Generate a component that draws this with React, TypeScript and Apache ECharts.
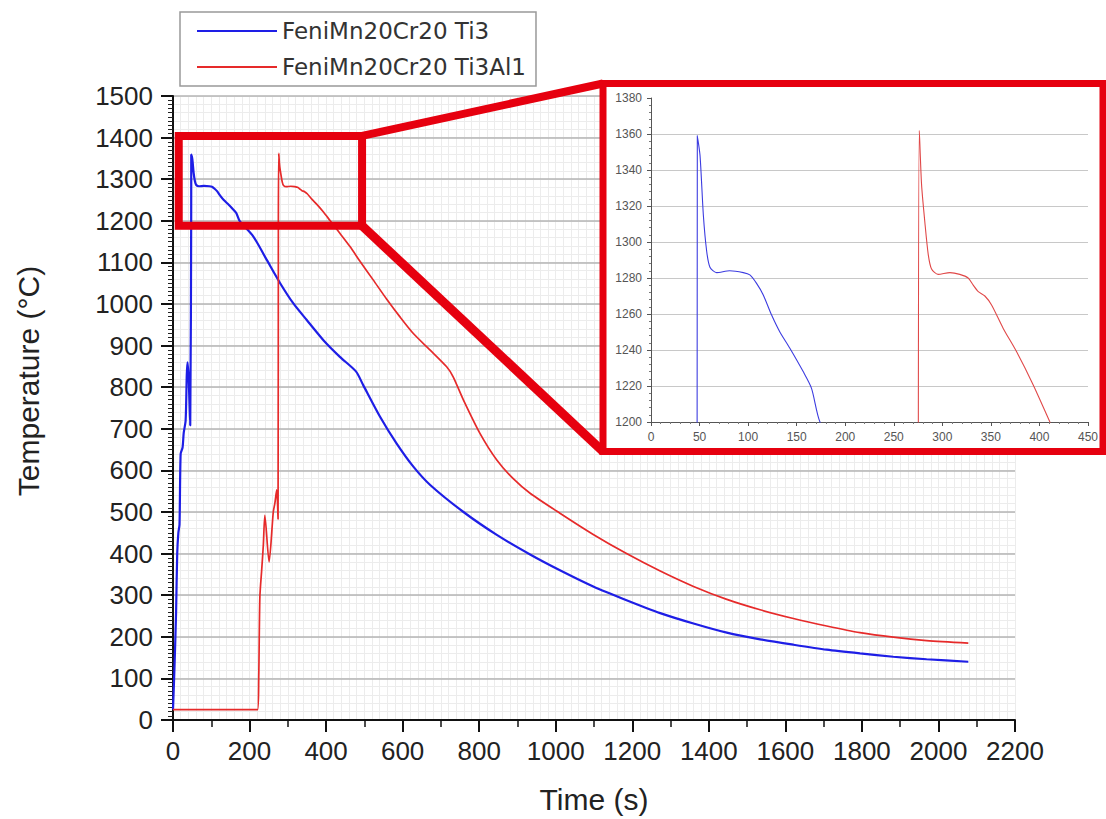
import React, { useEffect, useRef } from "react";
import * as echarts from "echarts";

const seriesNames = ["FeniMn20Cr20 Ti3", "FeniMn20Cr20 Ti3Al1"];

// FeniMn20Cr20 Ti3 (blue)
const ti3Time = [0, 4, 8, 11, 14, 17, 20, 25, 28, 33, 36, 38, 41, 45, 47.5, 47.7, 50.5, 53.9, 57.3, 60.7, 67.6, 81, 95, 101.8, 108.7, 115.6, 124.2, 132.7, 143, 156.7, 165.3, 174, 210, 245, 280, 314, 349, 393, 436, 478, 497, 541, 584, 628, 672, 759, 846, 933, 1011, 1098, 1185, 1273, 1360, 1447, 1534, 1621, 1708, 1795, 1882, 1969, 2078];
const ti3Temp = [25, 130, 257, 400, 450, 470, 640, 655, 690, 720, 830, 860, 820, 708, 1200, 1359, 1348, 1315, 1295, 1286, 1283, 1284, 1283, 1281.7, 1277, 1270.6, 1259.4, 1250, 1241, 1228, 1218.7, 1200, 1162, 1106, 1050, 1002, 962, 913, 873, 838, 805, 729, 665, 609, 565, 500, 445, 398, 360, 321, 288, 257, 232, 210, 194, 181, 169, 160, 152, 146, 140];

// FeniMn20Cr20 Ti3Al1 (red)
const ti3Al1Time = [0, 221, 224, 227, 232, 236, 240, 251, 262, 266, 271, 274.5, 275.3, 276.3, 278.6, 282, 285.5, 288.9, 295.7, 307.8, 318, 326.6, 331.8, 337, 343.8, 350.7, 362.7, 376.5, 393.6, 410.8, 436, 462.5, 489, 523, 558, 593, 628, 672, 715, 732, 759, 802, 846, 889, 933, 1011, 1098, 1185, 1273, 1360, 1447, 1534, 1621, 1708, 1795, 1882, 1969, 2078];
const ti3Al1Temp = [25, 25, 100, 296, 364, 420, 492, 380, 500, 520, 553, 483, 1200, 1362, 1332, 1311, 1293, 1285, 1282, 1283, 1282, 1280, 1276, 1272.4, 1270, 1265, 1252, 1239, 1220.6, 1200, 1170, 1138, 1102, 1058, 1012, 969, 929, 889, 849, 825, 769, 689, 625, 580, 545, 497, 446, 400, 358, 321, 290, 265, 244, 226, 210, 199, 191, 185];

// zoomed region marked on the main plot (time, temperature)
const zoomBoxTime = [15, 494];
const zoomBoxTemp = [1188, 1404];

const BLUE = "#1e1ee6";
const RED = "#e62a2a";
const FRAME = "#e6000f";
const FONT = "Liberation Sans";
const plain = (v: number) => String(v);

export default function App() {
  const ref = useRef<HTMLDivElement>(null);

  useEffect(() => {
    const chart = echarts.init(ref.current!, null, { renderer: "svg" });
    const zip = (a: number[], b: number[]) => a.map((v, i) => [v, b[i]]);
    const blue = zip(ti3Time, ti3Temp);
    const red = zip(ti3Al1Time, ti3Al1Temp);
    const smoothOpts = { smooth: 0.25 };

    chart.setOption({
      animation: false,
      backgroundColor: "#ffffff",
      legend: {
        data: seriesNames,
        orient: "vertical",
        left: 180,
        top: 12,
        padding: [6, 10, 6, 17],
        itemGap: 10,
        itemWidth: 80,
        itemHeight: 2,
        icon: "rect",
        backgroundColor: "#ffffff",
        borderColor: "#999",
        borderWidth: 1.5,
        z: 6,
        textStyle: { fontFamily: "DejaVu Sans", fontSize: 23, color: "#333", lineHeight: 26 },
      },
      grid: [
        { left: 173, right: 91, top: 96, bottom: 99 },
        { left: 651, right: 18, top: 98, bottom: 397 },
      ],
      xAxis: [
        {
          type: "value", gridIndex: 0, min: 0, max: 2200, interval: 200, z: 1,
          axisLine: { show: true, onZero: false, lineStyle: { color: "#111", width: 2 } },
          axisTick: { show: true, length: 12, lineStyle: { color: "#111", width: 2 } },
          minorTick: { show: true, splitNumber: 2, length: 7, lineStyle: { color: "#111", width: 1.5 } },
          axisLabel: { fontSize: 26, color: "#222", margin: 18, fontFamily: FONT, formatter: plain },
          splitLine: { show: false },
          name: "Time (s)", nameLocation: "middle", nameGap: 64,
          nameTextStyle: { fontSize: 30, color: "#222", fontFamily: FONT },
        },
        {
          type: "value", gridIndex: 0, min: 0, max: 2200, interval: 20, z: 0,
          axisLine: { show: false }, axisTick: { show: false }, axisLabel: { show: false },
          splitLine: { show: true, lineStyle: { color: "#ececec", width: 1 } },
        },
        {
          type: "value", gridIndex: 1, min: 0, max: 450, interval: 50, z: 3,
          axisLine: { show: true, onZero: false, lineStyle: { color: "#555", width: 1 } },
          axisTick: { show: true, length: 4, lineStyle: { color: "#555" } },
          minorTick: { show: true, splitNumber: 5, length: 2, lineStyle: { color: "#777" } },
          axisLabel: { fontSize: 12, color: "#555", margin: 9, fontFamily: FONT, formatter: plain },
          splitLine: { show: false },
        },
      ],
      yAxis: [
        {
          type: "value", gridIndex: 0, min: 0, max: 1500, interval: 100, z: 1,
          axisLine: { show: true, onZero: false, lineStyle: { color: "#111", width: 2 } },
          axisTick: { show: true, length: 12, lineStyle: { color: "#111", width: 2 } },
          minorTick: { show: true, splitNumber: 10, length: 5, lineStyle: { color: "#222", width: 1 } },
          axisLabel: { fontSize: 26, color: "#222", margin: 20, fontFamily: FONT, formatter: plain },
          splitLine: { show: true, lineStyle: { color: "#b4b4b4", width: 1.5 } },
        },
        {
          type: "value", gridIndex: 0, min: 0, max: 1500, interval: 20, z: 0,
          axisLine: { show: false }, axisTick: { show: false }, axisLabel: { show: false },
          splitLine: { show: true, lineStyle: { color: "#ececec", width: 1 } },
        },
        {
          type: "value", gridIndex: 1, min: 1200, max: 1380, interval: 20, z: 3,
          axisLine: { show: true, onZero: false, lineStyle: { color: "#555", width: 1 } },
          axisTick: { show: true, length: 4, lineStyle: { color: "#555" } },
          minorTick: { show: true, splitNumber: 5, length: 2, lineStyle: { color: "#777" } },
          axisLabel: { fontSize: 12, color: "#555", margin: 9, fontFamily: FONT, formatter: plain },
          splitLine: { show: true, showMaxLine: false, lineStyle: { color: "#c8c8c8", width: 1 } },
        },
      ],
      series: [
        {
          name: seriesNames[0], type: "line", xAxisIndex: 0, yAxisIndex: 0, data: blue,
          symbol: "none", color: BLUE, itemStyle: { color: BLUE }, ...smoothOpts,
          lineStyle: { color: BLUE, width: 2.2 }, z: 2, clip: true,
        },
        {
          name: seriesNames[1], type: "line", xAxisIndex: 0, yAxisIndex: 0, data: red,
          symbol: "none", color: RED, itemStyle: { color: RED }, ...smoothOpts,
          lineStyle: { color: RED, width: 1.7 }, z: 2, clip: true,
        },
        {
          name: seriesNames[0], type: "line", xAxisIndex: 2, yAxisIndex: 2, data: blue,
          symbol: "none", color: BLUE, itemStyle: { color: BLUE }, ...smoothOpts,
          lineStyle: { color: "#3c3ce0", width: 1.1 }, z: 4, clip: true,
        },
        {
          name: seriesNames[1], type: "line", xAxisIndex: 2, yAxisIndex: 2, data: red,
          symbol: "none", color: RED, itemStyle: { color: RED }, ...smoothOpts,
          lineStyle: { color: "#e04848", width: 1.1 }, z: 4, clip: true,
        },
      ],
    });

    const tl = chart.convertToPixel({ gridIndex: 0 }, [zoomBoxTime[0], zoomBoxTemp[1]]) as number[];
    const br = chart.convertToPixel({ gridIndex: 0 }, [zoomBoxTime[1], zoomBoxTemp[0]]) as number[];
    const inset = { x: 603, y: 83.5, w: 500, h: 368 };

    chart.setOption({
      graphic: [
        {
          type: "rect", z: 2, silent: true,
          shape: { x: inset.x, y: inset.y, width: inset.w, height: inset.h },
          style: { fill: "#ffffff", stroke: "none" },
        },
        {
          type: "rect", z: 5, silent: true,
          shape: { x: inset.x, y: inset.y, width: inset.w, height: inset.h },
          style: { fill: "none", stroke: FRAME, lineWidth: 7 },
        },
        {
          type: "rect", z: 5, silent: true,
          shape: { x: tl[0], y: tl[1], width: br[0] - tl[0], height: br[1] - tl[1] },
          style: { fill: "none", stroke: FRAME, lineWidth: 8 },
        },
        {
          type: "line", z: 5, silent: true,
          shape: { x1: br[0], y1: tl[1], x2: inset.x, y2: inset.y },
          style: { stroke: FRAME, lineWidth: 8 },
        },
        {
          type: "line", z: 5, silent: true,
          shape: { x1: br[0], y1: br[1], x2: inset.x, y2: inset.y + inset.h },
          style: { stroke: FRAME, lineWidth: 9 },
        },
        {
          type: "text", z: 5, x: 28, y: 381, rotation: Math.PI / 2,
          style: {
            text: "Temperature (°C)", fill: "#222",
            font: `30px "${FONT}"`, fontSize: 30, fontFamily: FONT,
            align: "center", verticalAlign: "middle",
            textAlign: "center", textVerticalAlign: "middle",
          },
        },
      ],
    });

    return () => chart.dispose();
  }, []);

  return (
    <div
      ref={ref}
      style={{ position: "absolute", left: 0, top: 0, width: 1106, height: 819 }}
    />
  );
}
